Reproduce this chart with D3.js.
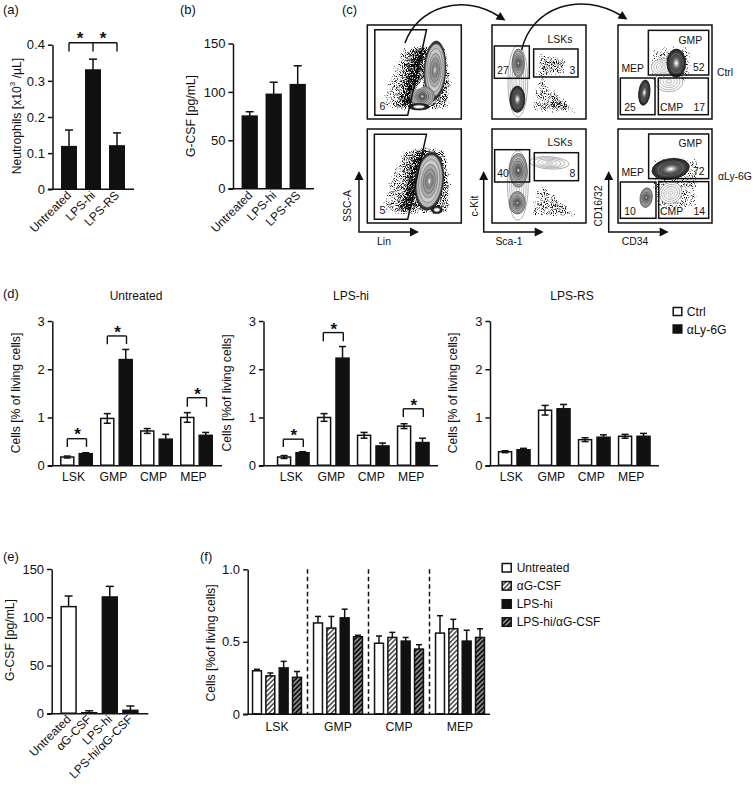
<!DOCTYPE html>
<html><head><meta charset="utf-8">
<script src="https://cdn.jsdelivr.net/npm/d3@7"></script>
<style>
html,body{margin:0;padding:0;background:#fff}
svg{display:block}
text{font-family:"Liberation Sans",Arial,sans-serif;fill:#111}
</style></head><body>
<svg id="c" width="753" height="790"></svg>
<script>
// ---------- DATA ----------
const catA = ["Untreated","LPS-hi","LPS-RS"];
const neutrophils = [0.118,0.33,0.12];
const neutrophilsErr = [0.046,0.03,0.036];
const gcsfB = [75,97.5,107.5];
const gcsfBErr = [4.5,12.5,19.5];

const catD = ["LSK","GMP","CMP","MEP"];
const untreatedCtrl = [0.18,0.98,0.72,1.0];
const untreatedCtrlErr = [0.02,0.10,0.05,0.10];
const untreatedAly = [0.25,2.2,0.55,0.63];
const untreatedAlyErr = [0.02,0.21,0.10,0.06];
const lpsHiCtrl = [0.18,1.0,0.63,0.82];
const lpsHiCtrlErr = [0.03,0.08,0.06,0.05];
const lpsHiAly = [0.27,2.23,0.41,0.48];
const lpsHiAlyErr = [0.02,0.24,0.06,0.09];
const lpsRsCtrl = [0.29,1.15,0.54,0.61];
const lpsRsCtrlErr = [0.02,0.10,0.04,0.04];
const lpsRsAly = [0.33,1.18,0.59,0.61];
const lpsRsAlyErr = [0.03,0.09,0.05,0.06];

const catE = ["Untreated","αG-CSF","LPS-hi","LPS-hi/αG-CSF"];
const gcsfE = [111,1,121,3.5];
const gcsfEErr = [11,2,11,4.5];

const seriesF = ["Untreated","αG-CSF","LPS-hi","LPS-hi/αG-CSF"];
const fUntreated = [0.30,0.63,0.49,0.56];
const fUntreatedErr = [0.01,0.045,0.05,0.12];
const fAntiG = [0.265,0.595,0.53,0.59];
const fAntiGErr = [0.02,0.08,0.035,0.065];
const fLps = [0.32,0.665,0.505,0.505];
const fLpsErr = [0.045,0.06,0.025,0.075];
const fLpsAnti = [0.255,0.535,0.45,0.53];
const fLpsAntiErr = [0.04,0.01,0.03,0.06];

// flow cytometry sketches, all in plot units (0-100) ; [column,row,...]
const gatePolys = [
 [0,0,[[8,5],[63,5],[43,96],[8,96]]],
 [0,1,[[7.5,5.7],[63,5.7],[43,96],[7.5,96]]]
];
const gateRects = [
 [1,0,2.5,22.3,39.7,56.7],[1,0,44.3,25.5,91.5,55.3],
 [1,1,2.8,22,40,56.4],[1,1,45,25.2,92,55],
 [2,0,32.3,5.7,96.5,53.2],[2,0,2.5,56.4,39.4,95.4],[2,0,42.9,56.4,96.1,95.4],
 [2,1,32.6,5.3,96.5,52.8],[2,1,2.5,56.4,40.4,95],[2,1,43.3,56,96.5,95]
];
const gateLabels = [
 [0,0,"6",16,87],[0,1,"5",16,87],
 [1,0,"LSKs",72.3,15],[1,0,"27",11.7,48],[1,0,"3",85.5,48],
 [1,1,"LSKs",72.3,14.5],[1,1,"40",11.7,47],[1,1,"8",85.5,47],
 [2,0,"GMP",77,16],[2,0,"MEP",15.6,46.5],[2,0,"52",86,45.7],[2,0,"25",12.8,88],[2,0,"CMP",57,88],[2,0,"17",86.5,88],
 [2,1,"GMP",77,15.6],[2,1,"MEP",15.6,46.5],[2,1,"72",86,45.4],[2,1,"10",12.8,88],[2,1,"CMP",57,88],[2,1,"14",86.5,88]
];
const dustPolys = [
 [0,0,.64,[[36,21],[61,21],[45,92],[12,92],[20,56]]],
 [0,0,.3,[[45,23],[61,21],[44,92],[28,92]]],
 [0,0,.55,[[53,23],[62,23],[46,87],[36,90]]],
 [0,0,.72,[[61,19],[84,19],[92,60],[88,92],[44,92]]],
 [0,1,.64,[[36,20],[61,18],[45,92],[12,92],[20,56]]],
 [0,1,.3,[[45,22],[61,18],[44,92],[28,92]]],
 [0,1,.55,[[53,22],[62,20],[46,87],[36,90]]],
 [0,1,.72,[[61,16],[84,19],[92,60],[88,92],[44,92]]],
 [1,0,.69,[[46,28],[81,33],[78,56],[46,56]]],
 [1,0,.66,[[46,56],[55,56],[97,95],[39,95]]],
 [1,0,.35,[[64,78],[85,83],[85,92],[62,88]]],
 [1,1,.66,[[46,56],[55,56],[97,95],[39,95]]],
 [1,1,.2,[[62,82],[92,82],[92,92],[60,90]]],
 [2,0,.64,[[36,22],[80,20],[80,60],[40,70],[30,45]]],
 [2,1,.64,[[36,28],[88,28],[86,85],[40,90],[34,60]]]
];
// [column,row,style,cx,cy,rx,ry,rotation]
const flowBlobs = [
 [0,0,"ring",72,48,11.5,31,3],
 [0,0,"mid",58.5,76,13,11,0],
 [0,0,"band",55,87,11,3.4,0],
 [0,1,"ring",66,55.5,15,31,6],
 [0,1,"band",74,86,6,4,0],
 [1,0,"light",27.5,60,10.5,38,0],
 [1,0,"mid",28,40.6,6.5,15,0],
 [1,0,"dark",27,79,8,14,0],
 [1,1,"light",27.5,60,11,37,0],
 [1,1,"mid",28,44,9.5,18,0],
 [1,1,"mid",27,78.5,8.5,12,0],
 [1,1,"light",61,36,21,6.5,4],
 [2,0,"light",54,60,15,11,0],
 [2,0,"light",48.5,45,13,9,0],
 [2,0,"dark",62,40.6,10,15,0],
 [2,0,"dark",28,72,6,13.5,6],
 [2,1,"light",56,68,12.5,11,-30],
 [2,1,"dark",56,42.5,20,11,-8],
 [2,1,"mid",30,73,6.5,10.5,8]
];
const blobLevels = {
 ring:[[1,"#333","#222"],[.9,"#bbb","#666"],[.74,"#ccc","#777"],[.58,"#aaa","#777"],[.42,"#999","#666"],[.26,"#888","#666"],[.1,"#ddd","#999"]],
 dark:[[1,"#333","#111"],[.88,"#444","#222"],[.74,"#666","#333"],[.6,"#555","#333"],[.42,"#777","#444"],[.26,"#bbb","#777"],[.12,"#fff","#ccc"]],
 mid:[[1,"#aaa","#444"],[.86,"#bbb","#666"],[.7,"#aaa","#666"],[.54,"#999","#555"],[.38,"#777","#555"],[.22,"#666","#444"],[.08,"#eee","#aaa"]],
 light:[[1,"#fff","#888"],[.8,"#fff","#999"],[.6,"#fff","#999"],[.4,"#fff","#aaa"],[.2,"#eee","#aaa"]],
 band:[[1,"#222","#111"],[.55,"#fff","#555"]]
};
const whiteWedge = [0,0,[[51,69],[60,56],[59,66]]];
const flowAxes = [["SSC-A","Lin"],["c-Kit","Sca-1"],["CD16/32","CD34"]];

// ---------- HELPERS ----------
const svg = d3.select("#c");
const fmt0 = d => d === 0 ? "0" : String(d);
const defs = svg.append("defs");
function hatch(id,bg,fg){
  const p = defs.append("pattern").attr("id",id).attr("patternUnits","userSpaceOnUse")
    .attr("width",3.4).attr("height",3.4).attr("patternTransform","rotate(-45)");
  p.append("rect").attr("width",3.4).attr("height",3.4).attr("fill",bg);
  p.append("rect").attr("width",3.4).attr("height",1.5).attr("fill",fg);
}
hatch("hw","#fff","#444");
hatch("hb","#111","#999");
const fillFor = {w:"#fff",b:"#111",hw:"url(#hw)",hb:"url(#hb)"};

function axes(g,y,ticks,xLeft,xRight,xAxisY,ax,fmt){
  const a = d3.axisLeft(y).tickValues(ticks).tickSize(4.6).tickSizeOuter(0).tickPadding(3).tickFormat(fmt||fmt0);
  const gy = g.append("g").attr("transform",`translate(${ax},0)`).call(a);
  gy.selectAll("path,line").attr("stroke","#111").attr("stroke-width",1.5);
  gy.selectAll("text").attr("font-size",13).attr("font-family",'"Liberation Sans",Arial,sans-serif');
  g.append("line").attr("x1",ax-4.6).attr("x2",xRight).attr("y1",xAxisY).attr("y2",xAxisY).attr("stroke","#111").attr("stroke-width",1.6);
}
function bars(g,rows,y,strokeW){
  const base = y(0);
  g.selectAll("rect.bar").data(rows).join("rect").attr("class","bar")
    .attr("x",d=>d.x+.75).attr("width",d=>d.w-1.5)
    .attr("y",d=>y(d.v)).attr("height",d=>Math.max(0,base-y(d.v)-.5))
    .attr("fill",d=>fillFor[d.f]).attr("stroke","#111").attr("stroke-width",strokeW||1.5);
  const e = g.selectAll("g.err").data(rows).join("g").attr("class","err").attr("stroke","#111").attr("stroke-width",1.5);
  e.append("line").attr("x1",d=>d.x+d.w/2).attr("x2",d=>d.x+d.w/2)
    .attr("y1",d=>y(d.both?d.v-d.e:d.v)).attr("y2",d=>y(d.v+d.e));
  e.append("line").attr("x1",d=>d.x+d.w/2-d.cap).attr("x2",d=>d.x+d.w/2+d.cap)
    .attr("y1",d=>y(d.v+d.e)).attr("y2",d=>y(d.v+d.e));
  e.filter(d=>d.both).append("line").attr("x1",d=>d.x+d.w/2-d.cap).attr("x2",d=>d.x+d.w/2+d.cap)
    .attr("y1",d=>y(d.v-d.e)).attr("y2",d=>y(d.v-d.e));
}
function yLabel(txt,x,y,size){
  return svg.append("text").attr("transform",`translate(${x},${y}) rotate(-90)`)
    .attr("text-anchor","middle").attr("dominant-baseline","central").attr("font-size",size||12.2).text(txt);
}
function catBand(cats,c0,pitch,barW){
  return d3.scaleBand().domain(cats).range([c0-pitch/2,c0-pitch/2+pitch*cats.length])
    .paddingInner(1-barW/pitch).paddingOuter((1-barW/pitch)/2);
}
function rotLabels(cats,x,yBase,dx){
  svg.append("g").selectAll("text").data(cats).join("text")
    .attr("text-anchor","end").attr("font-size",12)
    .attr("transform",d=>`translate(${x(d)+x.bandwidth()/2+dx},${yBase}) rotate(-45)`).text(d=>d);
}
function star(x,cy){
  svg.append("text").attr("x",x).attr("y",cy+9).attr("text-anchor","middle").attr("font-size",17).attr("font-weight","bold").text("*");
}
function bracket(xs,y,top,bot){
  const g = svg.append("g").attr("stroke","#111").attr("stroke-width",1.4).attr("fill","none");
  g.append("line").attr("x1",xs[0]).attr("x2",xs[xs.length-1]).attr("y1",y(top)).attr("y2",y(top));
  xs.forEach(x=>g.append("line").attr("x1",x).attr("x2",x).attr("y1",y(top)).attr("y2",y(bot)));
}
function panelLabel(t,x,y){ svg.append("text").attr("x",x).attr("y",y).attr("dominant-baseline","central").attr("font-size",13).text(t); }

// ---------- PANEL a ----------
{
  const y = d3.scaleLinear([0,0.4],[189.3,44.7]);
  const x = catBand(catA,69,24,16);
  const g = svg.append("g");
  axes(g,y,[0,.1,.2,.3,.4],0,134,189.3,52.5);
  bars(g,catA.map((c,i)=>({x:x(c),w:x.bandwidth(),v:neutrophils[i],e:neutrophilsErr[i],f:"b",cap:4})),y);
  rotLabels(catA,x,196,3);
  bracket([x(catA[0])+8,x(catA[1])+8,x(catA[2])+8],y,0.4055,0.381);
  star(80,35); star(103,35);
  const t = svg.append("text").attr("transform","translate(16.7,116) rotate(-90)").attr("text-anchor","middle")
    .attr("dominant-baseline","central").attr("font-size",12.2);
  t.append("tspan").text("Neutrophils [x10");
  t.append("tspan").attr("baseline-shift","super").attr("font-size",8).text("3");
  t.append("tspan").text(" /µL]");
  panelLabel("(a)",3,9);
}
// ---------- PANEL b ----------
{
  const y = d3.scaleLinear([0,150],[188.7,43.5]);
  const x = catBand(catA,249.7,24,16.3);
  const g = svg.append("g");
  axes(g,y,[0,50,100,150],0,314,188.7,233);
  bars(g,catA.map((c,i)=>({x:x(c),w:x.bandwidth(),v:gcsfB[i],e:gcsfBErr[i],f:"b",cap:4})),y);
  rotLabels(catA,x,196,3.5);
  yLabel("G-CSF [pg/mL]",191,116);
  panelLabel("(b)",180,9);
}
// ---------- PANEL c ----------
{
  const colX = [367.3,492,618], rowY = [25,129], size = 94;
  const fx = c => d3.scaleLinear([0,100],[colX[c],colX[c]+size]);
  const fy = r => d3.scaleLinear([0,100],[rowY[r],rowY[r]+size]);
  const f = defs.append("filter").attr("id","speck").attr("filterUnits","userSpaceOnUse")
    .attr("x",340).attr("y",0).attr("width",400).attr("height",240).attr("color-interpolation-filters","sRGB");
  f.append("feGaussianBlur").attr("in","SourceAlpha").attr("stdDeviation",3).attr("result","b");
  f.append("feTurbulence").attr("type","fractalNoise").attr("baseFrequency",1.1).attr("numOctaves",1).attr("seed",4).attr("result","n");
  f.append("feColorMatrix").attr("in","n").attr("type","matrix").attr("values","0 0 0 0 0  0 0 0 0 0  0 0 0 0 0  1 0 0 0 0").attr("result","na");
  f.append("feComposite").attr("in","na").attr("in2","b").attr("operator","arithmetic")
    .attr("k1",0).attr("k2",1).attr("k3",1).attr("k4",-1.15).attr("result","sum");
  const ct = f.append("feComponentTransfer").attr("in","sum").attr("result","dots");
  ct.append("feFuncA").attr("type","linear").attr("slope",5).attr("intercept",0);
  f.append("feGaussianBlur").attr("in","dots").attr("stdDeviation",0.3);

  const dust = svg.append("g").attr("filter","url(#speck)");
  const line = d3.line();
  dust.selectAll("path").data(dustPolys).join("path")
    .attr("d",d=>line(d[3].map(p=>[fx(d[0])(p[0]),fy(d[1])(p[1])]))+"Z")
    .attr("fill","#000").attr("fill-opacity",d=>d[2]);

  const blobs = svg.append("g");
  flowBlobs.forEach(b=>{
    const [c,r,style,cx,cy,rx,ry,rot] = b;
    const X = fx(c), Y = fy(r), px = X(cx), py = Y(cy);
    const g = blobs.append("g").attr("transform",`translate(${px},${py}) rotate(${rot})`);
    blobLevels[style].forEach(l=>{
      g.append("ellipse").attr("rx",X(rx)-X(0)).attr("ry",(Y(ry)-Y(0))).attr("transform",`scale(${l[0]})`)
        .attr("fill",l[1]).attr("stroke",l[2]).attr("stroke-width",.7/l[0]);
    });
  });
  svg.append("path").attr("fill","#fff")
    .attr("d",line(whiteWedge[2].map(p=>[fx(whiteWedge[0])(p[0]),fy(whiteWedge[1])(p[1])]))+"Z");

  const fr = svg.append("g").attr("fill","none").attr("stroke","#111").attr("stroke-width",1.5);
  colX.forEach((_,c)=>rowY.forEach((_,r)=>{
    fr.append("rect").attr("x",colX[c]).attr("y",rowY[r]).attr("width",size).attr("height",size);
  }));
  gatePolys.forEach(d=>fr.append("path").attr("d",line(d[2].map(p=>[fx(d[0])(p[0]),fy(d[1])(p[1])]))+"Z"));
  gateRects.forEach(d=>{
    const X=fx(d[0]),Y=fy(d[1]);
    fr.append("rect").attr("x",X(d[2])).attr("y",Y(d[3])).attr("width",X(d[4])-X(d[2])).attr("height",Y(d[5])-Y(d[3]));
  });
  svg.append("g").selectAll("text").data(gateLabels).join("text")
    .attr("x",d=>fx(d[0])(d[3])).attr("y",d=>fy(d[1])(d[4])).attr("text-anchor","middle")
    .attr("dominant-baseline","central").attr("font-size",10.4).text(d=>d[2]);

  svg.append("text").attr("x",725).attr("y",72).attr("text-anchor","middle").attr("dominant-baseline","central").attr("font-size",10.4).text("Ctrl");
  svg.append("text").attr("x",718).attr("y",176).attr("dominant-baseline","central").attr("font-size",10.4).text("αLy-6G");

  // gating arrows
  const head = (x,y,ang)=>svg.append("path").attr("transform",`translate(${x},${y}) rotate(${ang})`).attr("d","M0,0L-9,-4.5L-9,4.5Z").attr("fill","#111");
  const curves = svg.append("g").attr("fill","none").attr("stroke","#111").attr("stroke-width",1.5);
  curves.append("path").attr("d","M405,43C417,8 462,-8 500,17");
  head(505.5,20.5,32);
  curves.append("path").attr("d","M521.7,50C531,8 580,-10 622,16");
  head(627.5,19.5,32);

  // axis arrows
  const arrowX = [359,483.7,608.7];
  const labX = [[347,384],[474,509],[598,635]];
  arrowX.forEach((ax,i)=>{
    const g = svg.append("g");
    g.append("path").attr("d",`M${ax},175V232H${ax+56}`).attr("fill","none").attr("stroke","#111").attr("stroke-width",1.5);
    g.append("path").attr("d",`M${ax},171L${ax-4.5},180H${ax+4.5}Z`).attr("fill","#111");
    g.append("path").attr("d",`M${ax+60},232L${ax+51},227.5V236.5Z`).attr("fill","#111");
    yLabel(flowAxes[i][0],labX[i][0],206,10.4);
    svg.append("text").attr("x",labX[i][1]).attr("y",241.7).attr("text-anchor","middle").attr("dominant-baseline","central").attr("font-size",10.4).text(flowAxes[i][1]);
  });
  panelLabel("(c)",342,9);
}
// ---------- PANEL d ----------
const dY = d3.scaleLinear([0,3],[465.7,321]);
function panelD(title,tx,axX,axRight,c0,ctrl,ctrlE,aly,alyE,lab,labX){
  const x = d3.scaleBand().domain(catD).range([c0-20,c0+140]);
  const inner = d3.scaleBand().domain(["c","a"]).range([-16.5,16.5]).paddingInner(3.9/18.4);
  const g = svg.append("g");
  axes(g,dY,[0,1,2,3],0,axRight,465.7,axX);
  const rows = [];
  catD.forEach((c,i)=>{
    const mid = x(c)+x.bandwidth()/2;
    rows.push({x:mid+inner("c"),w:inner.bandwidth(),v:ctrl[i],e:ctrlE[i],f:"w",cap:3.5,both:true});
    rows.push({x:mid+inner("a"),w:inner.bandwidth(),v:aly[i],e:alyE[i],f:"b",cap:3.5,both:true});
  });
  bars(g,rows,dY);
  svg.append("g").selectAll("text").data(catD).join("text")
    .attr("x",d=>x(d)+x.bandwidth()/2+labX).attr("y",476.5).attr("text-anchor","middle").attr("dominant-baseline","central")
    .attr("font-size",12.2).text(d=>d);
  yLabel(lab,axX-36.6,393);
  svg.append("text").attr("x",tx).attr("y",296).attr("text-anchor","middle").attr("dominant-baseline","central").attr("font-size",12).text(title);
  return x;
}
{
  const x1 = panelD("Untreated",136,52.3,222,76.5,untreatedCtrl,untreatedCtrlErr,untreatedAly,untreatedAlyErr,"Cells [% of living cells]",-3);
  const mid1 = c=>x1(c)+x1.bandwidth()/2;
  bracket([mid1("LSK")-9.2,mid1("LSK")+10],dY,.56,.39); star(mid1("LSK")+1,431);
  bracket([mid1("GMP")-9.2,mid1("GMP")+10],dY,2.69,2.52); star(mid1("GMP")+1,329);
  bracket([mid1("MEP")-9.2,mid1("MEP")+10],dY,1.41,1.22); star(mid1("MEP")+1,391);

  const x2 = panelD("LPS-hi",351,263.5,438,293.3,lpsHiCtrl,lpsHiCtrlErr,lpsHiAly,lpsHiAlyErr,"Cells [%of living cells]",-2);
  const mid2 = c=>x2(c)+x2.bandwidth()/2;
  bracket([mid2("LSK")-10,mid2("LSK")+10],dY,.55,.39); star(mid2("LSK")+.5,431.5);
  bracket([mid2("GMP")-10,mid2("GMP")+10],dY,2.76,2.58); star(mid2("GMP")+.5,326);
  bracket([mid2("MEP")-10,mid2("MEP")+10],dY,1.18,1.01); star(mid2("MEP")+.5,402);

  panelD("LPS-RS",572,490,659,514.3,lpsRsCtrl,lpsRsCtrlErr,lpsRsAly,lpsRsAlyErr,"Cells [% of living cells]",-3);

  panelLabel("(d)",3,293);
  const leg = svg.append("g");
  leg.selectAll("rect").data(["w","b"]).join("rect")
    .attr("x",673.2).attr("y",(d,i)=>307.5+i*17.5).attr("width",8.6).attr("height",8)
    .attr("fill",d=>fillFor[d]).attr("stroke","#111").attr("stroke-width",1.5);
  leg.selectAll("text").data(["Ctrl","αLy-6G"]).join("text")
    .attr("x",686.7).attr("y",(d,i)=>312.3+i*17.7).attr("dominant-baseline","central").attr("font-size",12.2).text(d=>d);
}
// ---------- PANEL e ----------
{
  const y = d3.scaleLinear([0,150],[713.7,569]);
  const x = catBand(catE,68.6,20.6,16.4);
  const g = svg.append("g");
  axes(g,y,[0,50,100,150],0,148.3,713.7,51.7);
  const fills = ["w","b","b","b"];
  bars(g,catE.map((c,i)=>({x:x(c),w:x.bandwidth(),v:gcsfE[i],e:gcsfEErr[i],f:fills[i],cap:4})),y);
  rotLabels(catE,x,720,3);
  yLabel("G-CSF [pg/mL]",9.5,640);
  panelLabel("(e)",3,556);
}
// ---------- PANEL f ----------
{
  const y = d3.scaleLinear([0,1],[714.3,569.3]);
  const x = d3.scaleBand().domain(catD).range([277-30.5,277+213.5]);
  const inner = d3.scaleBand().domain(seriesF).range([-25.2,25.2]).paddingInner(.22);
  const g = svg.append("g");
  axes(g,y,[0,.5,1],0,490,714.3,247.7,d=>d===0?"0":d.toFixed(1));
  const vals = [fUntreated,fAntiG,fLps,fLpsAnti], errs = [fUntreatedErr,fAntiGErr,fLpsErr,fLpsAntiErr], fills = ["w","hw","b","hb"];
  const rows = [];
  catD.forEach((c,i)=>seriesF.forEach((s,j)=>{
    rows.push({x:x(c)+x.bandwidth()/2+inner(s),w:inner.bandwidth(),v:vals[j][i],e:errs[j][i],f:fills[j],cap:3});
  }));
  bars(g,rows,y);
  g.append("g").selectAll("line").data(catD.slice(1)).join("line")
    .attr("x1",d=>x(d)).attr("x2",d=>x(d)).attr("y1",y(1)).attr("y2",y(0))
    .attr("stroke","#111").attr("stroke-width",1.5).attr("stroke-dasharray","4.5,3");
  svg.append("g").selectAll("text").data(catD).join("text")
    .attr("x",d=>x(d)+x.bandwidth()/2).attr("y",726.7).attr("text-anchor","middle").attr("dominant-baseline","central")
    .attr("font-size",12.2).text(d=>d);
  yLabel("Cells [%of living cells]",210.7,643);
  panelLabel("(f)",200,556);
  const leg = svg.append("g");
  leg.selectAll("rect").data(seriesF).join("rect")
    .attr("x",502.2).attr("y",(d,i)=>563.5+i*18.1).attr("width",9).attr("height",8.5)
    .attr("fill",(d,i)=>fillFor[fills[i]]).attr("stroke","#111").attr("stroke-width",1.5);
  leg.selectAll("text").data(seriesF).join("text")
    .attr("x",516.7).attr("y",(d,i)=>568+i*18.1).attr("dominant-baseline","central").attr("font-size",12).text(d=>d);
}
</script>
</body></html>
